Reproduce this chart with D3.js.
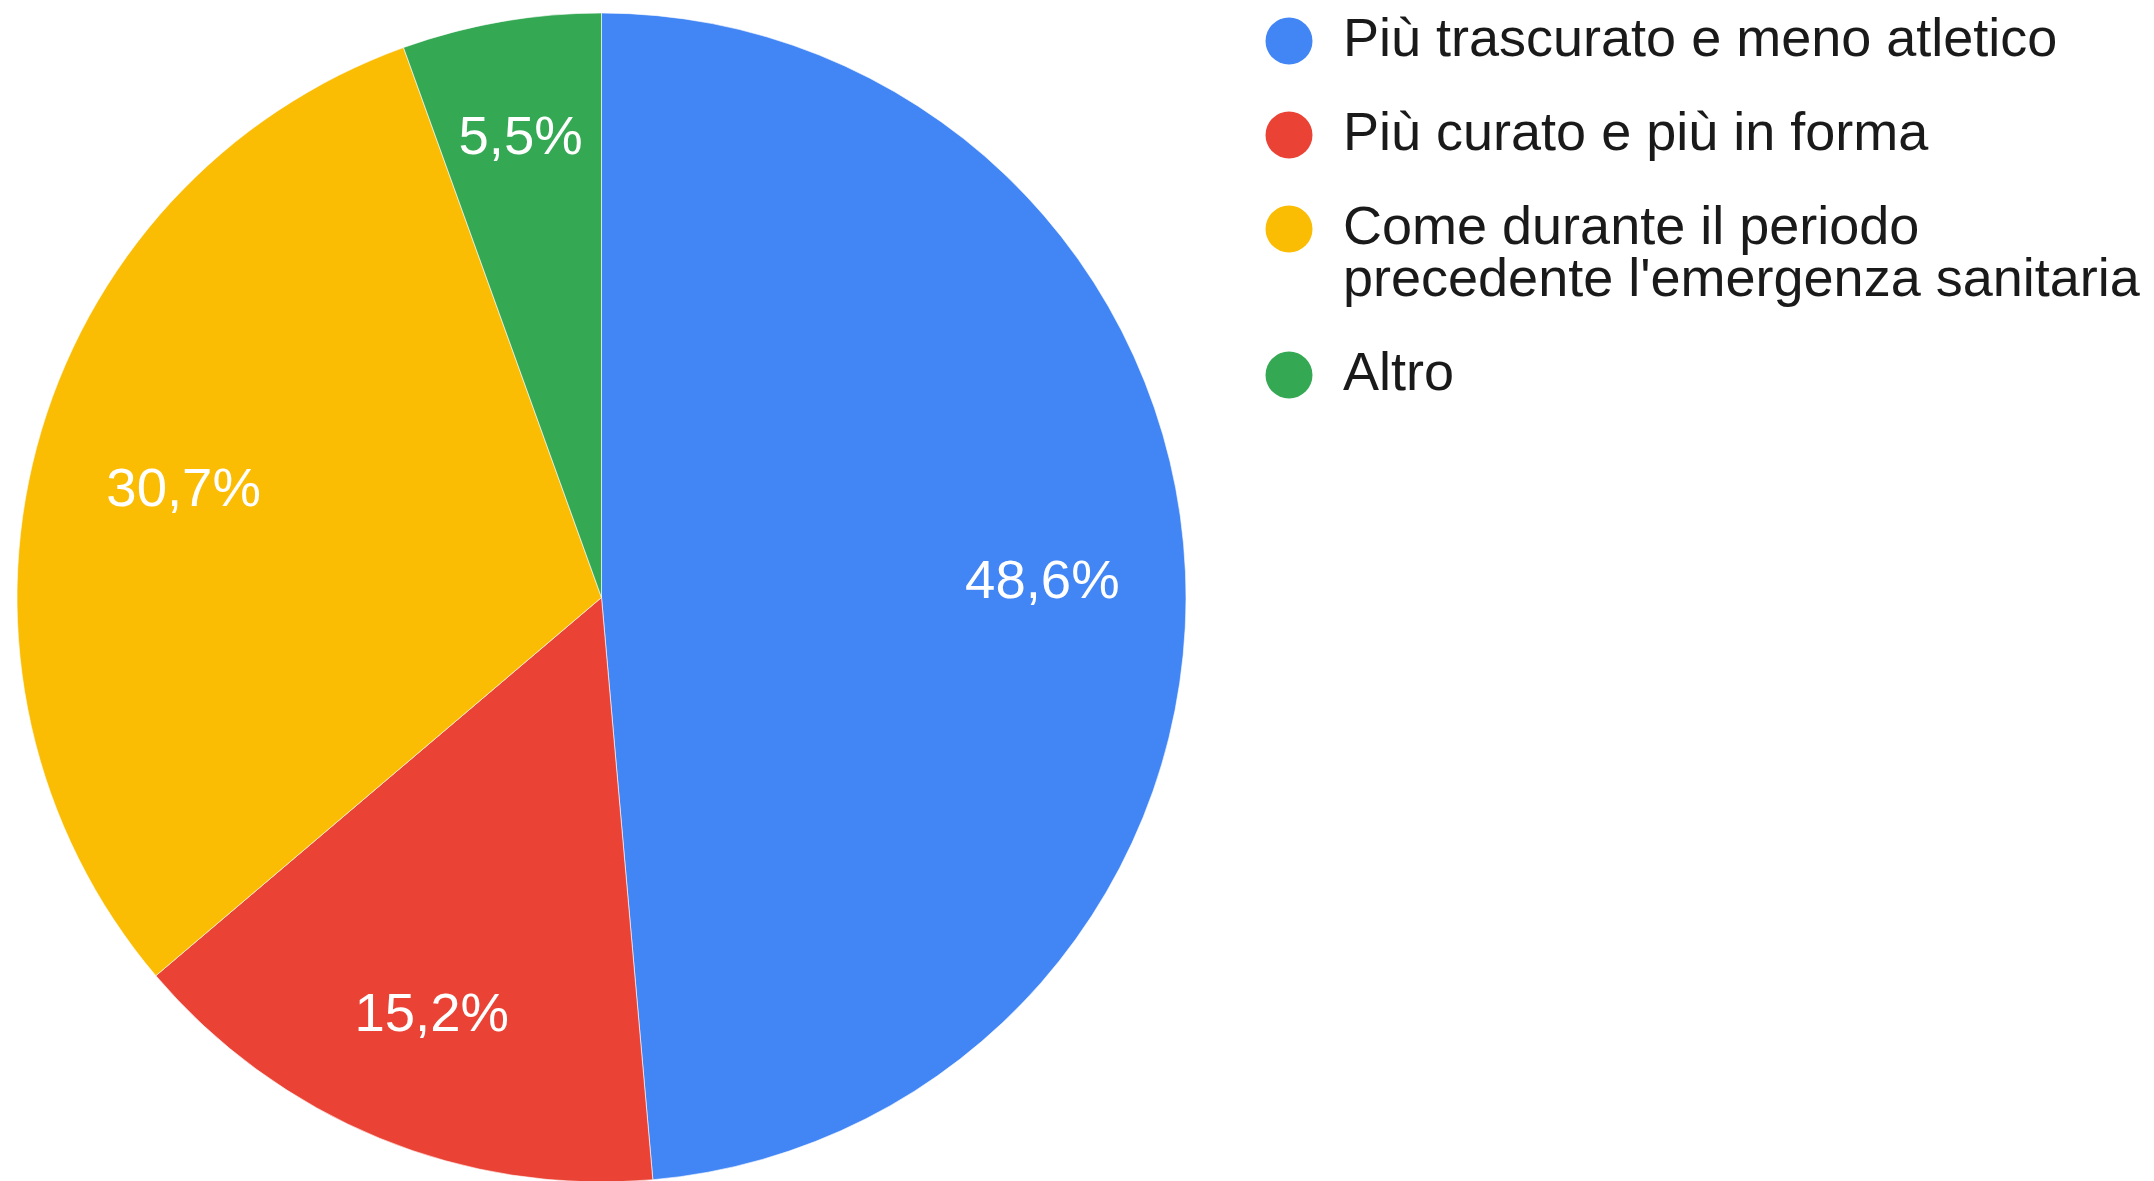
<!DOCTYPE html>
<html>
<head>
<meta charset="utf-8">
<script src="https://cdn.jsdelivr.net/npm/d3@7"></script>
<style>
  html, body { margin: 0; padding: 0; background: #ffffff; }
  svg { display: block; }
</style>
</head>
<body>
<svg id="chart" width="2154" height="1181"></svg>
<script>
// ---- data ----
const categories = [
  "Più trascurato e meno atletico",
  "Più curato e più in forma",
  "Come durante il periodo precedente l'emergenza sanitaria",
  "Altro"
];
const values = [48.6, 15.2, 30.7, 5.5];
const valueLabels = ["48,6%", "15,2%", "30,7%", "5,5%"];
const colors = ["#4285f4", "#ea4335", "#fbbc04", "#34a853"];

// ---- layout ----
const W = 2154, H = 1181;
const cx = 601.5, cy = 597.5, R = 584.5;
const fontFamily = "'Liberation Sans', Arial, sans-serif";

const svg = d3.select("#chart");

const pie = d3.pie().sort(null).value(d => d)
  .startAngle(0).endAngle(2 * Math.PI);
const arcs = pie(values);

const arc = d3.arc().innerRadius(0).outerRadius(R);

const g = svg.append("g").attr("transform", `translate(${cx},${cy})`);

g.selectAll("path.slice")
  .data(arcs)
  .enter().append("path")
  .attr("class", "slice")
  .attr("d", arc)
  .attr("fill", (d, i) => colors[i])
  .attr("stroke", "#ffffff")
  .attr("stroke-opacity", 0.6)
  .attr("stroke-width", 1);

// labels (radius factor chosen by slice size)
function labelRadiusFactor(frac) {
  if (frac < 0.1) return 0.805;
  if (frac < 0.2) return 0.765;
  if (frac < 0.4) return 0.74;
  return 0.755;
}
g.selectAll("text.lbl")
  .data(arcs)
  .enter().append("text")
  .attr("class", "lbl")
  .attr("transform", d => {
    const frac = (d.endAngle - d.startAngle) / (2 * Math.PI);
    const rf = labelRadiusFactor(frac);
    const a = (d.startAngle + d.endAngle) / 2;
    return `translate(${Math.sin(a) * R * rf},${-Math.cos(a) * R * rf})`;
  })
  .attr("text-anchor", "middle")
  .attr("dy", "0.36em")
  .attr("fill", "#ffffff")
  .style("font-family", fontFamily)
  .style("font-size", "54.5px")
  .text((d, i) => valueLabels[i]);

// legend
const legX = 1289, textX = 1343, circR = 23.5;
const lineH = 52, gap = 42, maxW = 812;
const fontSize = 54;
let y = 41;
const leg = svg.append("g");

categories.forEach((c, i) => {
  const item = leg.append("g");
  item.append("circle")
    .attr("cx", legX).attr("cy", y).attr("r", circR)
    .attr("fill", colors[i]);
  const t = item.append("text")
    .attr("x", textX)
    .attr("fill", "#1a1a1a")
    .style("font-family", fontFamily)
    .style("font-size", fontSize + "px");
  // word wrap
  const words = c.split(" ");
  let lines = [], cur = "";
  const probe = t.append("tspan");
  words.forEach(w => {
    const test = cur ? cur + " " + w : w;
    probe.text(test);
    if (probe.node().getComputedTextLength() > maxW && cur) {
      lines.push(cur); cur = w;
    } else cur = test;
  });
  lines.push(cur);
  probe.remove();
  lines.forEach((ln, k) => {
    t.append("tspan")
      .attr("x", textX)
      .attr("y", y + 14.5 + k * lineH)
      .text(ln);
  });
  y += lines.length * lineH + gap;
});
</script>
</body>
</html>
